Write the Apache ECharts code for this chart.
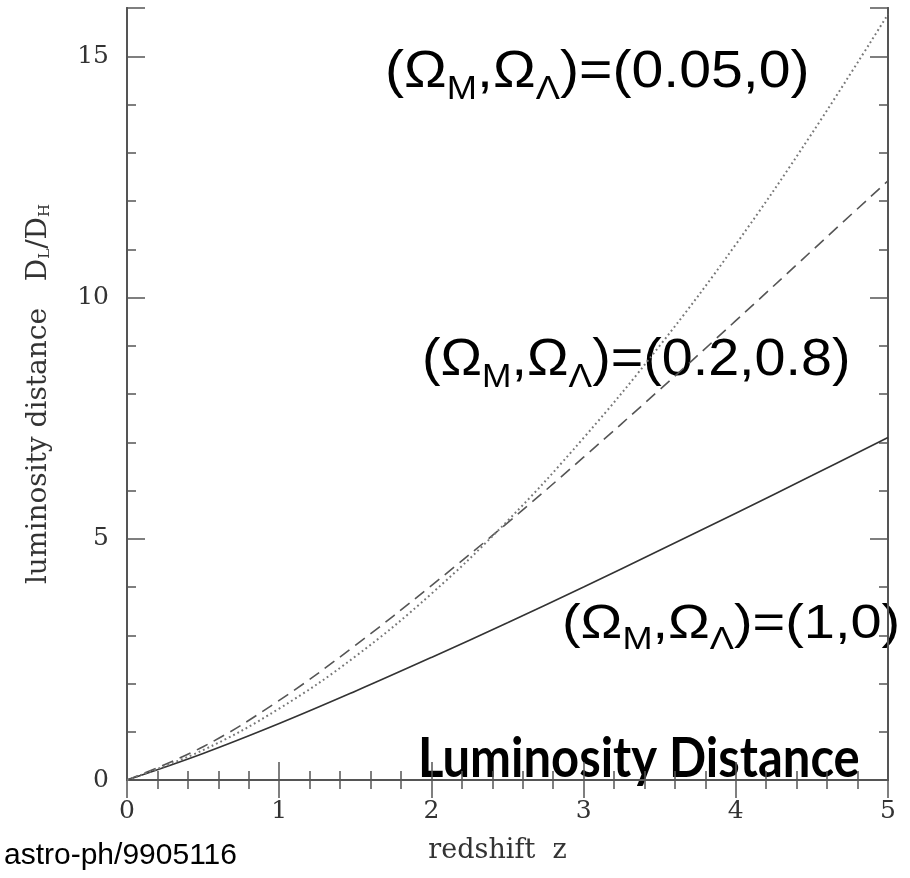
<!DOCTYPE html>
<html>
<head>
<meta charset="utf-8">
<script src="https://cdn.jsdelivr.net/npm/echarts@6/dist/echarts.min.js"></script>
<style>
  html, body { margin: 0; padding: 0; background: #fff; }
  #chart { width: 910px; height: 878px; }
</style>
</head>
<body>
<div id="chart"></div>
<script>
// redshift grid and D_L/D_H
const redshift = [0, 0.5, 1, 1.5, 2, 2.5, 3, 3.5, 4, 4.5, 5]
const einsteinDeSitter = [0, 0.55, 1.17, 1.84, 2.54, 3.26, 4.0, 4.76, 5.53, 6.31, 7.1]
const flatLambda = [0, 0.69, 1.65, 2.79, 4.03, 5.33, 6.69, 8.09, 9.52, 10.97, 12.42]
const lowDensity = [0, 0.62, 1.48, 2.56, 3.86, 5.37, 7.09, 9.0, 11.1, 13.4, 15.87]

const xTicks = [0, 1, 2, 3, 4, 5]
const yTicks = [0, 5, 10, 15]

const frame = '#555'
const tickFont = 'DejaVu Serif'

const pairs = (vals) => redshift.map((z, i) => [z, vals[i]])

function xAxisOf(position, labels) {
  return {
    type: 'value',
    position,
    min: xTicks[0],
    max: xTicks[xTicks.length - 1],
    interval: 1,
    axisLine: { show: true, lineStyle: { color: frame, width: 2 } },
    axisTick: { show: true, inside: true, length: 18, lineStyle: { color: frame, width: 1.5 } },
    minorTick: { show: true, splitNumber: 5, length: 9, lineStyle: { color: frame, width: 1.5 } },
    splitLine: { show: false },
    axisLabel: {
      show: labels,
      margin: 19,
      fontFamily: tickFont,
      fontSize: 25,
      color: '#333',
    },
    name: labels ? 'redshift  z' : '',
    nameLocation: 'middle',
    nameGap: 57,
    nameTextStyle: { fontFamily: tickFont, fontSize: 27, color: '#333', padding: [0, 20, 0, 0] },
  }
}

function yAxisOf(position, interval, tickLen, labels) {
  return {
    type: 'value',
    position,
    min: 0,
    max: 16,
    interval,
    axisLine: { show: true, lineStyle: { color: frame, width: 2 } },
    axisTick: { show: true, inside: true, length: tickLen, lineStyle: { color: frame, width: 1.5 } },
    splitLine: { show: false },
    axisLabel: {
      show: labels,
      margin: 18,
      fontFamily: tickFont,
      fontSize: 25,
      color: '#333',
      formatter: (v) => (yTicks.includes(v) ? String(v) : ''),
    },
    name: labels ? 'luminosity distance   D{s|L}/D{s|H}' : '',
    nameLocation: 'middle',
    nameGap: 74,
    nameTextStyle: {
      fontFamily: tickFont,
      fontSize: 28,
      color: '#333',
      rich: { s: { fontFamily: tickFont, fontSize: 15, color: '#333', padding: [14, 0, 0, 0] } },
    },
  }
}

function omegaLabel(x, y, size, sub, scale, value) {
  const subPad = Math.round(size * 0.5)
  return {
    type: 'text',
    x,
    y,
    scaleX: scale,
    style: {
      text: `{b|(Ω}{s|M}{b|,Ω}{s|Λ}{b|)=(${value})}`,
      rich: {
        b: { fontFamily: 'Liberation Sans', fontSize: size, lineHeight: size, verticalAlign: 'top', fill: '#000' },
        s: {
          fontFamily: 'Liberation Sans',
          fontSize: sub,
          lineHeight: sub,
          verticalAlign: 'top',
          padding: [subPad, 0, 0, 0],
          fill: '#000',
        },
      },
    },
  }
}

const chart = echarts.init(document.getElementById('chart'), null, { renderer: 'canvas' })
chart.setOption({
  animation: false,
  backgroundColor: '#fff',
  grid: { left: 127, right: 22, top: 8, bottom: 98, containLabel: false },
  xAxis: [xAxisOf('bottom', true), xAxisOf('top', false)],
  yAxis: [
    yAxisOf('left', 1, 9, false),
    yAxisOf('left', 5, 18, true),
    yAxisOf('right', 1, 9, false),
    yAxisOf('right', 5, 18, false),
  ],
  series: [
    {
      name: '(1,0)',
      type: 'line',
      data: pairs(einsteinDeSitter),
      smooth: 0.4,
      symbol: 'none',
      lineStyle: { color: '#333', width: 1.6 },
    },
    {
      name: '(0.2,0.8)',
      type: 'line',
      data: pairs(flatLambda),
      smooth: 0.4,
      symbol: 'none',
      lineStyle: { color: '#555', width: 1.6, type: [12, 7] },
    },
    {
      name: '(0.05,0)',
      type: 'line',
      data: pairs(lowDensity),
      smooth: 0.4,
      symbol: 'none',
      lineStyle: { color: '#777', width: 2, type: [1.8, 3] },
    },
  ],
  graphic: [
    omegaLabel(385, 47, 52, 33, 1.1, '0.05,0'),
    omegaLabel(422, 335, 52, 33, 1.07, '0.2,0.8'),
    omegaLabel(562, 601, 48, 31, 1.165, '1,0'),
    {
      type: 'text',
      x: 418,
      y: 731,
      scaleX: 0.874,
      style: {
        text: 'Luminosity Distance',
        fontFamily: 'Lato',
        fontWeight: 'bold',
        fontSize: 56,
        fill: '#000',
      },
    },
    {
      type: 'text',
      x: 4,
      y: 841,
      style: {
        text: 'astro-ph/9905116',
        fontFamily: 'Liberation Sans',
        fontSize: 30,
        fill: '#000',
      },
    },
  ],
})
</script>
</body>
</html>
